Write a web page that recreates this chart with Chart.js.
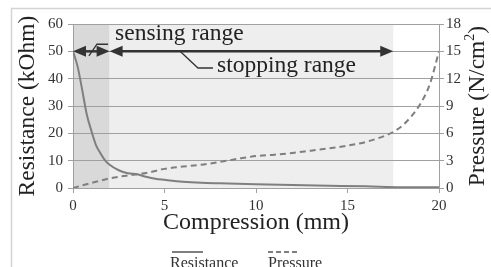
<!DOCTYPE html>
<html>
<head>
<meta charset="utf-8">
<script src="https://cdn.jsdelivr.net/npm/chart.js@4"></script>
<style>
html,body{margin:0;padding:0;background:#fff;overflow:hidden;}
canvas{display:block;}
</style>
</head>
<body>
<canvas id="c" width="491" height="267"></canvas>
<script>
// ---- data ----
const resistanceX = [0,0.25,0.5,0.75,1,1.25,1.5,1.75,2,2.5,3,3.5,4,4.5,5,6,7,8,10,12,14,16,18,20];
const resistanceY = [50,44.5,36,27,21,15.8,12.7,10.1,8.5,6.5,5.4,5.0,4.1,3.4,3.0,2.3,1.9,1.7,1.35,1.1,0.85,0.6,0.3,0.25];
const pressureX = [0,1,2,3,4,5,6,7,8,9,10,11,12,13,14,15,16,16.5,17,17.5,18,18.5,19,19.5,20];
const pressureY = [0,0.55,1.05,1.38,1.64,2.1,2.35,2.55,2.85,3.2,3.5,3.65,3.85,4.1,4.35,4.65,5.05,5.35,5.7,6.15,6.85,7.9,9.3,11.4,15.0];
const xTicks = [0,5,10,15,20];
const leftTicks = [0,10,20,30,40,50,60];
const rightTicks = [0,3,6,9,12,15,18];
const sensingRange = [0,2];
const stoppingRange = [2,17.5];
const arrowLevel = 50;
const labels = {
  sensing: {text:'sensing range', x:2.3, y:54.2, leader:[[1.92,52.6],[1.31,52.6],[0.87,48.3]]},
  stopping: {text:'stopping range', x:7.87, y:42.4, leader:[[5.85,50],[6.83,43.9],[7.65,43.9]]}
};

const SERIF = '"Liberation Serif","Times New Roman",serif';

const decor = {
  id:'decor',
  beforeDraw(chart){
    const {ctx, chartArea:a, scales:{x}} = chart;
    ctx.save();
    ctx.fillStyle='#fff';
    ctx.fillRect(0,0,chart.width,chart.height);
    // frame
    ctx.strokeStyle='#d4d4d4'; ctx.lineWidth=1.5;
    ctx.strokeRect(11.5,8.5,chart.width+20,chart.height+20);
    // shading
    const x0=x.getPixelForValue(sensingRange[0]), x1=x.getPixelForValue(sensingRange[1]);
    const x2=x.getPixelForValue(stoppingRange[1]);
    ctx.fillStyle='#d9d9d9';
    ctx.fillRect(x0,a.top,x1-x0,a.bottom-a.top);
    ctx.fillStyle='#eeeeee';
    ctx.fillRect(x1,a.top,x2-x1,a.bottom-a.top);
    ctx.restore();
  },
  afterDraw(chart){
    const {ctx, chartArea:a, scales:{x,y}} = chart;
    ctx.save();
    const ay = y.getPixelForValue(arrowLevel);
    const dark='#333';
    function head(tipX, dir){
      const L=13, W=5.5;
      ctx.beginPath();
      ctx.moveTo(tipX, ay);
      ctx.lineTo(tipX+dir*L, ay-W);
      ctx.lineTo(tipX+dir*L, ay+W);
      ctx.closePath();
      ctx.fill();
    }
    ctx.strokeStyle=dark; ctx.fillStyle=dark; ctx.lineWidth=2.5;
    [sensingRange, stoppingRange].forEach(r=>{
      const p0=x.getPixelForValue(r[0]), p1=x.getPixelForValue(r[1]);
      ctx.beginPath(); ctx.moveTo(p0+6,ay); ctx.lineTo(p1-6,ay); ctx.stroke();
      head(p0,1); head(p1,-1);
    });
    // leaders + labels
    ctx.lineWidth=1.3;
    Object.values(labels).forEach(l=>{
      ctx.beginPath();
      l.leader.forEach((p,i)=>{
        const px=x.getPixelForValue(p[0]), py=y.getPixelForValue(p[1]);
        if(i===0) ctx.moveTo(px,py); else ctx.lineTo(px,py);
      });
      ctx.stroke();
      ctx.font='23.5px '+SERIF;
      ctx.fillStyle='#222';
      ctx.textBaseline='alphabetic';
      ctx.textAlign='left';
      ctx.fillText(l.text, x.getPixelForValue(l.x), y.getPixelForValue(l.y));
    });
    // right axis title, rotated -90
    ctx.save();
    ctx.translate(478, (a.top+a.bottom)/2);
    ctx.rotate(-Math.PI/2);
    ctx.fillStyle='#222';
    ctx.textBaseline='middle';
    const f='23.5px '+SERIF, fs='14px '+SERIF;
    ctx.font=f;
    const t1='Pressure (N/cm', t3=')';
    const w1=ctx.measureText(t1).width, w3=ctx.measureText(t3).width;
    ctx.font=fs; const w2=ctx.measureText('2').width;
    const tot=w1+w2+w3;
    let sx=-tot/2;
    ctx.font=f; ctx.textAlign='left';
    ctx.fillText(t1,sx,0); sx+=w1;
    ctx.font=fs; ctx.fillText('2',sx,-8); sx+=w2;
    ctx.font=f; ctx.fillText(t3,sx,0);
    ctx.restore();
    // legend
    ctx.font='16px '+SERIF;
    ctx.fillStyle='#333';
    ctx.textBaseline='alphabetic';
    ctx.textAlign='left';
    ctx.strokeStyle='#7f7f7f'; ctx.lineWidth=2;
    ctx.beginPath(); ctx.moveTo(172,252); ctx.lineTo(203,252); ctx.stroke();
    ctx.fillText('Resistance',170,268);
    ctx.setLineDash([5,3]);
    ctx.beginPath(); ctx.moveTo(268,252); ctx.lineTo(299,252); ctx.stroke();
    ctx.setLineDash([]);
    ctx.fillText('Pressure',268,268);
    ctx.restore();
  }
};

const gridCol='#a0a0a0';
new Chart(document.getElementById('c'), {
  type:'line',
  data:{
    datasets:[
      {label:'Resistance', data:resistanceX.map((v,i)=>({x:v,y:resistanceY[i]})), yAxisID:'y',
       borderColor:'#7f7f7f', borderWidth:2, pointRadius:0, cubicInterpolationMode:'monotone', fill:false},
      {label:'Pressure', data:pressureX.map((v,i)=>({x:v,y:pressureY[i]})), yAxisID:'y1',
       borderColor:'#7f7f7f', borderWidth:2, borderDash:[6,4], pointRadius:0, cubicInterpolationMode:'monotone', fill:false}
    ]
  },
  options:{
    responsive:false, animation:false, devicePixelRatio:1,
    layout:{padding:{top:24,left:0,right:0,bottom:0}},
    plugins:{legend:{display:false}, tooltip:{enabled:false}},
    scales:{
      x:{type:'linear', min:0, max:20,
        afterBuildTicks:s=>{s.ticks=xTicks.map(v=>({value:v}));},
        afterFit:s=>{s.height=79;},
        grid:{drawOnChartArea:false, drawTicks:true, tickLength:5, color:gridCol},
        border:{display:true, color:gridCol},
        ticks:{font:{family:SERIF,size:15}, color:'#333', padding:4, maxRotation:0},
        title:{display:true, text:'Compression (mm)', font:{family:SERIF,size:24}, color:'#222', padding:{top:0,bottom:30}}
      },
      y:{type:'linear', position:'left', min:0, max:60,
        afterBuildTicks:s=>{s.ticks=leftTicks.map(v=>({value:v}));},
        afterFit:s=>{s.width=73;},
        grid:{color:gridCol, tickLength:5, drawTicks:true},
        border:{display:true, color:gridCol},
        ticks:{font:{family:SERIF,size:15}, color:'#333', padding:5},
        title:{display:true, text:'Resistance (kOhm)', font:{family:SERIF,size:23.5}, color:'#222', padding:{top:14,bottom:0}}
      },
      y1:{type:'linear', position:'right', min:0, max:18,
        afterBuildTicks:s=>{s.ticks=rightTicks.map(v=>({value:v}));},
        afterFit:s=>{s.width=52;},
        grid:{drawOnChartArea:false, color:gridCol, tickLength:5, drawTicks:true},
        border:{display:true, color:gridCol},
        ticks:{font:{family:SERIF,size:15}, color:'#333', padding:2}
      }
    }
  },
  plugins:[decor]
});
</script>
</body>
</html>
